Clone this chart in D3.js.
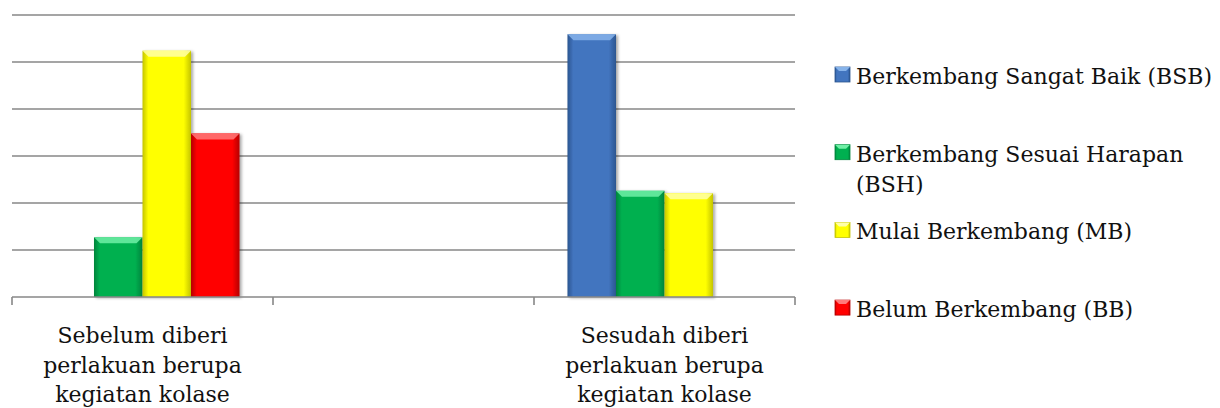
<!DOCTYPE html>
<html>
<head>
<meta charset="utf-8">
<script src="https://cdn.jsdelivr.net/npm/d3@7/dist/d3.min.js"></script>
<style>
  body { margin: 0; background: #fff; }
  text { font-family: "DejaVu Serif", "Liberation Serif", serif; fill: #111; }
</style>
</head>
<body>
<div id="chart"></div>
<script>
// data (gridline step = 10, max = 60)
var categories = ["sebelum", "kosong", "sesudah"];
var categoryLines = [
    ["Sebelum diberi", "perlakuan berupa", "kegiatan kolase"],
    [],
    ["Sesudah diberi", "perlakuan berupa", "kegiatan kolase"]
];
var series = ["BSB", "BSH", "MB", "BB"];
var seriesLabels = [
    ["Berkembang Sangat Baik (BSB)"],
    ["Berkembang Sesuai Harapan", "(BSH)"],
    ["Mulai Berkembang (MB)"],
    ["Belum Berkembang (BB)"]
];
var sebelum = [0, 12.7, 52.4, 34.8];
var kosong = [0, 0, 0, 0];
var sesudah = [55.9, 22.6, 22.1, 0];
var yTicks = [0, 10, 20, 30, 40, 50, 60];

var colors = {
    BSB: {base: "#4275bf", light: "#86b3ea", dark: "#2b5590"},
    BSH: {base: "#00b050", light: "#6ff0a6", dark: "#00843c"},
    MB:  {base: "#ffff00", light: "#ffffa8", dark: "#c4c400"},
    BB:  {base: "#ff0000", light: "#ff7a7a", dark: "#b50000"}
};

var table = [sebelum, kosong, sesudah];

var width = 1220, height = 408;
var plot = {left: 12, right: 795, top: 15, bottom: 297};

var svg = d3.select("#chart").append("svg")
    .attr("width", width)
    .attr("height", height);

var defs = svg.append("defs");

defs.append("filter")
    .attr("id", "shadow")
    .attr("x", "-20%").attr("y", "-10%")
    .attr("width", "150%").attr("height", "130%")
    .append("feDropShadow")
    .attr("dx", 2).attr("dy", 1)
    .attr("stdDeviation", 1.5)
    .attr("flood-color", "#000")
    .attr("flood-opacity", 0.35);

series.forEach(function(s) {
    var g = defs.append("linearGradient")
        .attr("id", "grad-" + s)
        .attr("x1", "0").attr("x2", "1")
        .attr("y1", "0").attr("y2", "0");
    g.append("stop").attr("offset", "0%").attr("stop-color", colors[s].dark);
    g.append("stop").attr("offset", "12%").attr("stop-color", colors[s].base);
    g.append("stop").attr("offset", "85%").attr("stop-color", colors[s].base);
    g.append("stop").attr("offset", "100%").attr("stop-color", colors[s].dark);
});

var x0 = d3.scaleBand()
    .domain(categories)
    .range([plot.left, plot.right])
    .padding(0);

var x1 = d3.scaleBand()
    .domain(series)
    .range([0, x0.bandwidth()])
    .paddingInner(0)
    .paddingOuter(0.69);

var y = d3.scaleLinear()
    .domain([0, 60])
    .range([plot.bottom, plot.top]);

// gridlines
svg.append("g")
    .selectAll("line")
    .data(yTicks.filter(function(d) { return d > 0; }))
    .enter().append("line")
    .attr("x1", plot.left)
    .attr("x2", plot.right)
    .attr("y1", function(d) { return y(d); })
    .attr("y2", function(d) { return y(d); })
    .attr("stroke", "#878787")
    .attr("stroke-width", 1.6);

// bars
var bars = [];
table.forEach(function(row, i) {
    row.forEach(function(v, j) {
        if (v > 0) bars.push({cat: categories[i], s: series[j], v: v});
    });
});

var barG = svg.append("g");
var bar = barG.selectAll(".bar")
    .data(bars)
    .enter().append("g")
    .attr("class", "bar")
    .attr("transform", function(d) { return "translate(" + (x0(d.cat) + x1(d.s)) + ",0)"; });

bar.append("rect")
    .attr("x", 0)
    .attr("y", function(d) { return y(d.v); })
    .attr("width", x1.bandwidth())
    .attr("height", function(d) { return y(0) - y(d.v); })
    .attr("fill", function(d) { return "url(#grad-" + d.s + ")"; })
    .attr("filter", "url(#shadow)");

// bevel on top edge
var bev = 6;
bar.append("path")
    .attr("d", function(d) {
        var t = y(d.v), w = x1.bandwidth();
        return "M0," + t + "L" + w + "," + t + "L" + (w - bev) + "," + (t + bev) +
            "L" + bev + "," + (t + bev) + "Z";
    })
    .attr("fill", function(d) { return colors[d.s].light; })
    .attr("opacity", 0.85);

// axis line and ticks at band edges
var axis = svg.append("g");
axis.append("line")
    .attr("x1", plot.left).attr("x2", plot.right)
    .attr("y1", y(0)).attr("y2", y(0))
    .attr("stroke", "#878787")
    .attr("stroke-width", 1.6);

var edges = categories.map(function(c) { return x0(c); }).concat([plot.right]);
axis.selectAll(".tick")
    .data(edges)
    .enter().append("line")
    .attr("class", "tick")
    .attr("x1", function(d) { return d; })
    .attr("x2", function(d) { return d; })
    .attr("y1", y(0))
    .attr("y2", y(0) + 8)
    .attr("stroke", "#878787")
    .attr("stroke-width", 1.6);

// category labels
categories.forEach(function(c, i) {
    var t = svg.append("text")
        .attr("x", x0(c) + x0.bandwidth() / 2)
        .attr("y", 343)
        .attr("text-anchor", "middle")
        .style("font-size", "22px");
    categoryLines[i].forEach(function(line, k) {
        t.append("tspan")
            .attr("x", x0(c) + x0.bandwidth() / 2)
            .attr("dy", k === 0 ? 0 : 29.5)
            .text(line);
    });
});

// legend
var legend = svg.selectAll(".legend")
    .data(series)
    .enter().append("g")
    .attr("class", "legend")
    .attr("transform", function(d, i) { return "translate(835," + (67 + i * 77.7) + ")"; });

legend.append("rect")
    .attr("width", 15)
    .attr("height", 15)
    .attr("fill", function(d) { return "url(#grad-" + d + ")"; })
    .attr("stroke", function(d) { return colors[d].dark; })
    .attr("stroke-width", 0.8);

legend.append("path")
    .attr("d", "M0,0L15,0L11,4L4,4Z")
    .attr("fill", function(d) { return colors[d].light; });

legend.append("text")
    .attr("x", 21)
    .attr("y", 17)
    .style("font-size", "22px")
    .each(function(d, i) {
        var t = d3.select(this);
        seriesLabels[i].forEach(function(line, k) {
            t.append("tspan")
                .attr("x", 21)
                .attr("dy", k === 0 ? 0 : 30)
                .text(line);
        });
    });
</script>
</body>
</html>
